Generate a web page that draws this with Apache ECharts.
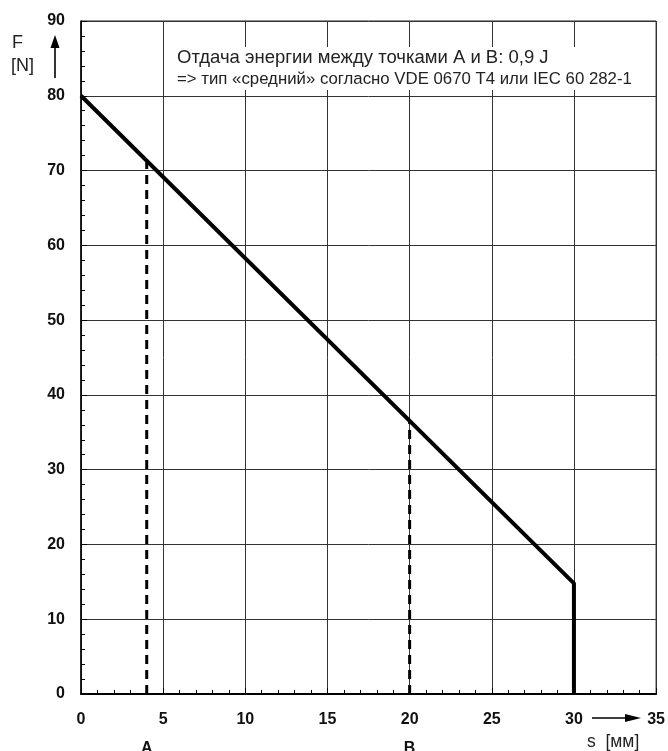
<!DOCTYPE html>
<html><head><meta charset="utf-8">
<script src="https://cdn.jsdelivr.net/npm/echarts@6/dist/echarts.min.js"></script>
<style>html,body{margin:0;padding:0;background:#fff}#c{width:668px;height:751px}</style>
</head><body><div id="c"></div>
<script>
// Data
const forceCurveS = [0, 30, 30];
const forceCurveF = [80, 14.8, 0];
const pointA_S = [4, 4];
const pointA_F = [0, 71.3];
const pointB_S = [20, 20];
const pointB_F = [0, 36.6];
const xTicks = [0, 5, 10, 15, 20, 25, 30, 35];
const yTicks = [0, 10, 20, 30, 40, 50, 60, 70, 80, 90];
const noteLine1 = 'Отдача энергии между точками A и B: 0,9 J';
const noteLine2 = '=> тип «средний» согласно VDE 0670 T4 или IEC 60 282-1';

const FONT = '"Liberation Sans", Arial, sans-serif';
const zip = (a, b) => a.map((v, i) => [v, b[i]]);

const chart = echarts.init(document.getElementById('c'));
chart.setOption({
  animation: false,
  backgroundColor: '#fff',
  grid: {left: 81, right: 11, top: 21, bottom: 57, show: true, borderColor: '#222', borderWidth: 1},
  xAxis: {
    type: 'value', min: xTicks[0], max: xTicks[xTicks.length-1], interval: 5,
    axisLine: {show: true, onZero: false, lineStyle: {color: '#000', width: 2}},
    axisTick: {show: true, inside: true, length: 6, lineStyle: {color: '#000', width: 1}},
    minorTick: {show: true, splitNumber: 5, length: 4, lineStyle: {color: '#000', width: 1}},
    splitLine: {show: true, lineStyle: {color: '#333', width: 1}},
    axisLabel: {fontFamily: FONT, fontSize: 16, fontWeight: 'bold', color: '#111', margin: 18}
  },
  yAxis: {
    type: 'value', min: yTicks[0], max: yTicks[yTicks.length-1], interval: 10,
    axisLine: {show: true, onZero: false, lineStyle: {color: '#000', width: 1.5}},
    axisTick: {show: true, inside: true, length: 6, lineStyle: {color: '#000', width: 1}},
    minorTick: {show: true, splitNumber: 5, length: 4, lineStyle: {color: '#000', width: 1}},
    splitLine: {show: true, lineStyle: {color: '#333', width: 1}},
    axisLabel: {fontFamily: FONT, fontSize: 16, fontWeight: 'bold', color: '#111', margin: 16}
  },
  series: [
    {type: 'line', data: zip(forceCurveS, forceCurveF), symbol: 'none', z: 5,
     lineStyle: {color: '#000', width: 4}},
    {type: 'line', data: zip(pointA_S, pointA_F), symbol: 'none', z: 4,
     lineStyle: {color: '#000', width: 3, type: [9, 6]}},
    {type: 'line', data: zip(pointB_S, pointB_F), symbol: 'none', z: 4,
     lineStyle: {color: '#000', width: 3, type: [9, 6]}}
  ]
});

const pA = chart.convertToPixel({gridIndex: 0}, [pointA_S[0], 0]);
const pB = chart.convertToPixel({gridIndex: 0}, [pointB_S[0], 0]);

chart.setOption({
  graphic: [
    {type: 'rect', shape: {x: 166, y: 47, width: 486, height: 43}, style: {fill: '#fff'}, z: 3},
    {type: 'text', x: 177, y: 48, z: 10, style: {text: noteLine1, font: '18.5px ' + FONT, fill: '#222'}},
    {type: 'text', x: 177, y: 71, z: 10, style: {text: noteLine2, font: '16.8px ' + FONT, fill: '#222'}},
    {type: 'text', x: 12, y: 34, z: 10, style: {text: 'F', font: '18px ' + FONT, fill: '#222'}},
    {type: 'text', x: 11, y: 57, z: 10, style: {text: '[N]', font: '18px ' + FONT, fill: '#222'}},
    {type: 'line', z: 10, shape: {x1: 55, y1: 78, x2: 55, y2: 46}, style: {stroke: '#000', lineWidth: 1.6}},
    {type: 'polygon', z: 10, shape: {points: [[55, 35], [50.5, 48], [59.5, 48]]}, style: {fill: '#000'}},
    {type: 'line', z: 10, shape: {x1: 592, y1: 718, x2: 628, y2: 718}, style: {stroke: '#000', lineWidth: 1.6}},
    {type: 'polygon', z: 10, shape: {points: [[641, 718], [625, 714], [625, 722]]}, style: {fill: '#000'}},
    {type: 'text', z: 10, x: pA[0], y: 749, style: {text: 'A', font: 'bold 16px ' + FONT, fill: '#111', align: 'center', verticalAlign: 'middle'}},
    {type: 'text', z: 10, x: pB[0], y: 749, style: {text: 'B', font: 'bold 16px ' + FONT, fill: '#111', align: 'center', verticalAlign: 'middle'}},
    {type: 'text', z: 10, x: 587, y: 742, style: {text: 's  [мм]', font: '17.5px ' + FONT, fill: '#222', align: 'left', verticalAlign: 'middle'}}
  ]
});
</script></body></html>
